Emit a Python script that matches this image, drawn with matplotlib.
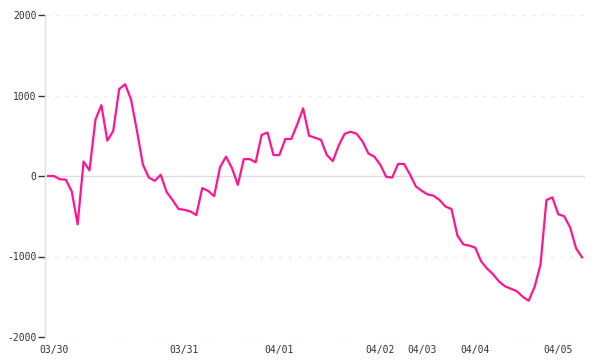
import matplotlib
matplotlib.use("Agg")
import matplotlib.pyplot as plt

values = [0, 0, -40, -45, -190, -600, 180, 70, 700, 880,
          440, 560, 1080, 1140, 950, 560, 140, -20, -60, 15,
          -200, -300, -410, -420, -440, -485, -150, -185, -250, 110,
          240, 100, -110, 210, 210, 170, 510, 540, 260, 260,
          460, 460, 640, 840, 500, 475, 450, 260, 185, 380,
          525, 550, 525, 430, 280, 240, 140, -10, -20, 150,
          150, 20, -130, -185, -230, -245, -300, -380, -410, -740,
          -850, -865, -890, -1060, -1150, -1220, -1310, -1370, -1400, -1430,
          -1500, -1550, -1380, -1100, -300, -265, -475, -500, -640, -900,
          -1010]
label_idx = [1, 23, 39, 56, 63, 72, 86]
label_text = ["03/30", "03/31", "04/01", "04/02", "04/03", "04/04", "04/05"]
y_ticks = [-2000, -1000, 0, 1000, 2000]

fig = plt.figure(figsize=(6, 3.6), dpi=100)
ax = fig.add_axes([45 / 600, 1 - 337 / 360, 540 / 600, 322 / 360])

for t in y_ticks:
    if t == 0:
        ax.axhline(t, color="#dddddd", lw=1.0, zorder=1)
    else:
        ax.axhline(t, color="#eeeeee", lw=1.0, ls=(0, (3, 4)), zorder=1)

ax.plot(range(len(values)), values, color="#ff1493", lw=1.6, zorder=3)

ax.set_xlim(-0.5, len(values) - 0.5)
ax.set_ylim(-2000, 2000)
ax.set_yticks(y_ticks)
ax.set_yticklabels([str(t) for t in y_ticks])
ax.set_xticks(label_idx)
ax.set_xticklabels(label_text)

for s in ["top", "right", "bottom"]:
    ax.spines[s].set_visible(False)
ax.spines["left"].set_color("#dddddd")
ax.spines["left"].set_linewidth(1.0)

ax.tick_params(axis="y", length=5, width=1, color="#333333", pad=1,
               labelsize=7, labelcolor="#333333")
ax.tick_params(axis="x", length=0, pad=6, labelsize=7, labelcolor="#333333")
for lab in ax.get_xticklabels() + ax.get_yticklabels():
    lab.set_family("DejaVu Sans Mono")

fig.savefig("out.png", dpi=100)
